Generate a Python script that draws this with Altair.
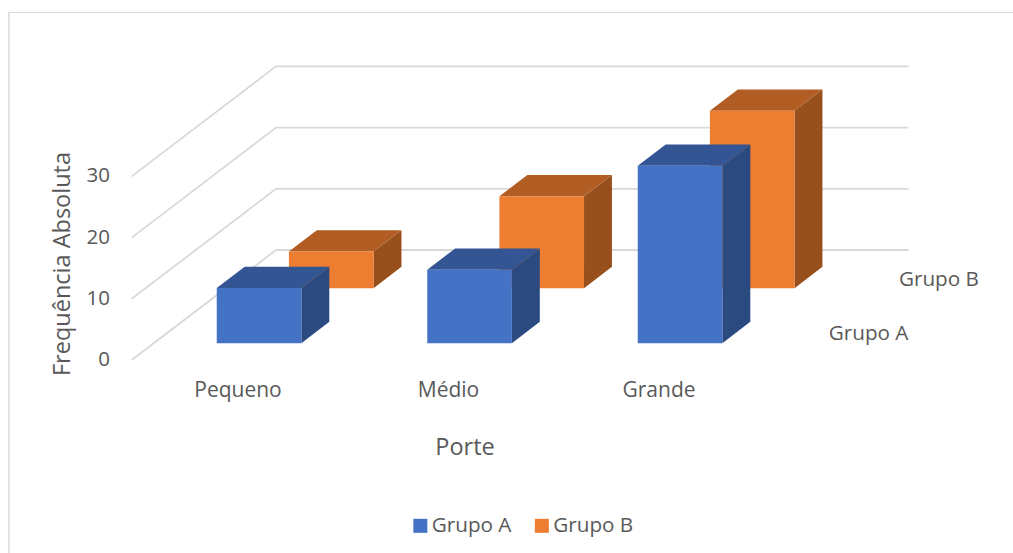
import altair as alt
import pandas as pd

categories = ["Pequeno", "Médio", "Grande"]
grupo_a = [9, 12, 29]
grupo_b = [6, 15, 29]
series = ["Grupo A", "Grupo B"]
y_ticks = [0, 10, 20, 30]

FONT = "Open Sans"
TEXT = "#595959"
GRID = "#d9d9d9"

W, H = 1013, 553
# Oblique projection: one category step is 210.5 px, one value unit is 6.12 px.
PX_X, PX_Y = 210.5, 6.12
ORIGIN_X, ORIGIN_Y = 131.7, 360.0
# Moving one series back shifts a point right and up, in plot units.
SHIFT_X, SHIFT_Y = 72.15 / PX_X, 55.0 / PX_Y
BAR_W, BAR_D = 0.402, 0.387
MARGIN_X, MARGIN_D = (1 - BAR_W) / 2, (1 - BAR_D) / 2

colors = {
    "Grupo A": {"front": "#4472c4", "top": "#335593", "side": "#2a4a80"},
    "Grupo B": {"front": "#ed7d31", "top": "#b15d24", "side": "#974f1c"},
}


def project(cat, depth, value):
    return cat + depth * SHIFT_X, value + depth * SHIFT_Y


front_rows, top_rows, side_rows = [], [], []
for s, (name, values) in enumerate(zip(series, [grupo_a, grupo_b])):
    for c, v in enumerate(values):
        x0, x1 = c + MARGIN_X, c + MARGIN_X + BAR_W
        d0, d1 = s + MARGIN_D, s + MARGIN_D + BAR_D
        fx0, fb = project(x0, d0, 0)
        fx1, ft = project(x1, d0, v)
        front_rows.append(dict(grupo=name, x=fx0, x2=fx1, y=fb, y2=ft))
        for d in (d0, d1):
            xl, yt = project(x0, d, v)
            xr, _ = project(x1, d, v)
            top_rows.append(dict(grupo=name, cat=c, y=yt, x=xl, x2=xr))
            xs, ybot = project(x1, d, 0)
            _, ytop = project(x1, d, v)
            side_rows.append(dict(grupo=name, cat=c, x=xs, y=ybot, y2=ytop))

front = pd.DataFrame(front_rows)
top = pd.DataFrame(top_rows)
side = pd.DataFrame(side_rows)

grid_rows = []
for v in y_ticks:
    for order, (cx, d) in enumerate([(0, 0), (0, 2), (3.005, 2)]):
        gx, gy = project(cx, d, v)
        grid_rows.append(dict(tick=v, order=order, x=gx, y=gy))
grid = pd.DataFrame(grid_rows)

x_scale = alt.Scale(domain=[-ORIGIN_X / PX_X, (W - ORIGIN_X) / PX_X], nice=False, zero=False)
y_scale = alt.Scale(domain=[(ORIGIN_Y - H) / PX_Y, ORIGIN_Y / PX_Y], nice=False, zero=False)
X = lambda f="x": alt.X(f"{f}:Q", scale=x_scale, axis=None)
Y = lambda f="y": alt.Y(f"{f}:Q", scale=y_scale, axis=None)

grid_layer = (
    alt.Chart(grid)
    .mark_line(color=GRID, strokeWidth=1.8)
    .encode(x=X(), y=Y(), detail="tick:N", order="order:Q")
)

color_scale = alt.Scale(domain=series, range=[colors[s]["front"] for s in series])
legend = alt.Legend(
    orient="none",
    legendX=410,
    legendY=515,
    direction="horizontal",
    title=None,
    symbolType="square",
    symbolSize=196,
    symbolStrokeWidth=0,
    labelFont=FONT,
    labelFontSize=20.7,
    labelColor=TEXT,
    columnPadding=19.5,
    labelOffset=1,
)


def bar_layers(name):
    side_layer = (
        alt.Chart(side[side.grupo == name])
        .mark_area(color=colors[name]["side"])
        .encode(x=X(), y=Y(), y2="y2:Q", detail="cat:N")
    )
    top_layer = (
        alt.Chart(top[top.grupo == name])
        .mark_area(color=colors[name]["top"], orient="horizontal")
        .encode(y=Y(), x=X(), x2="x2:Q", detail="cat:N")
    )
    front_layer = (
        alt.Chart(front[front.grupo == name])
        .mark_rect()
        .encode(
            x=X(),
            x2="x2:Q",
            y=Y(),
            y2="y2:Q",
            color=alt.Color("grupo:N", scale=color_scale, legend=legend),
        )
    )
    return [side_layer, top_layer, front_layer]


def text_layer(rows, **mark):
    return (
        alt.Chart(pd.DataFrame(rows))
        .mark_text(font=FONT, color=TEXT, **mark)
        .encode(x=alt.X("x:Q", scale=x_scale, axis=None), y=alt.Y("y:Q", scale=y_scale, axis=None), text="label:N")
    )


tick_labels = text_layer(
    [dict(x=(110 - ORIGIN_X) / PX_X, y=v, label=str(v)) for v in y_ticks],
    fontSize=20.5,
    align="right",
    baseline="middle",
)
cat_labels = text_layer(
    [dict(x=c + 0.505, y=-5.05, label=name) for c, name in enumerate(categories)],
    fontSize=21,
    align="center",
    baseline="middle",
)
series_labels = text_layer(
    [
        dict(x=3.69, y=(ORIGIN_Y - 334) / PX_Y, label="Grupo A"),
        dict(x=4.025, y=(ORIGIN_Y - 280) / PX_Y, label="Grupo B"),
    ],
    fontSize=20.7,
    align="right",
    baseline="middle",
)
x_title = text_layer(
    [dict(x=(465 - ORIGIN_X) / PX_X, y=(ORIGIN_Y - 448) / PX_Y, label="Porte")],
    fontSize=23.5,
    align="center",
    baseline="middle",
)
y_title = text_layer(
    [dict(x=(63 - ORIGIN_X) / PX_X, y=(ORIGIN_Y - 264) / PX_Y, label="Frequência Absoluta")],
    fontSize=23.5,
    align="center",
    baseline="middle",
    angle=270,
)

# Chart frame: thin top edge, heavier left edge.
frame_top = alt.Chart(pd.DataFrame({"a": [0]})).mark_rule(color=GRID, strokeWidth=1).encode(
    x=alt.value(8), x2=alt.value(W), y=alt.value(12.5)
)
frame_left = alt.Chart(pd.DataFrame({"a": [0]})).mark_rule(color="#e2e2e2", strokeWidth=2).encode(
    x=alt.value(9), y=alt.value(12), y2=alt.value(H)
)

chart = (
    alt.layer(
        frame_top,
        frame_left,
        grid_layer,
        *bar_layers("Grupo B"),
        *bar_layers("Grupo A"),
        tick_labels,
        cat_labels,
        series_labels,
        x_title,
        y_title,
    )
    .properties(width=W, height=H, padding=0, autosize=alt.AutoSizeParams(type="none"))
    .configure_view(stroke=None)
)

chart.save("out.html", embed_options={"renderer": "svg", "actions": False})
